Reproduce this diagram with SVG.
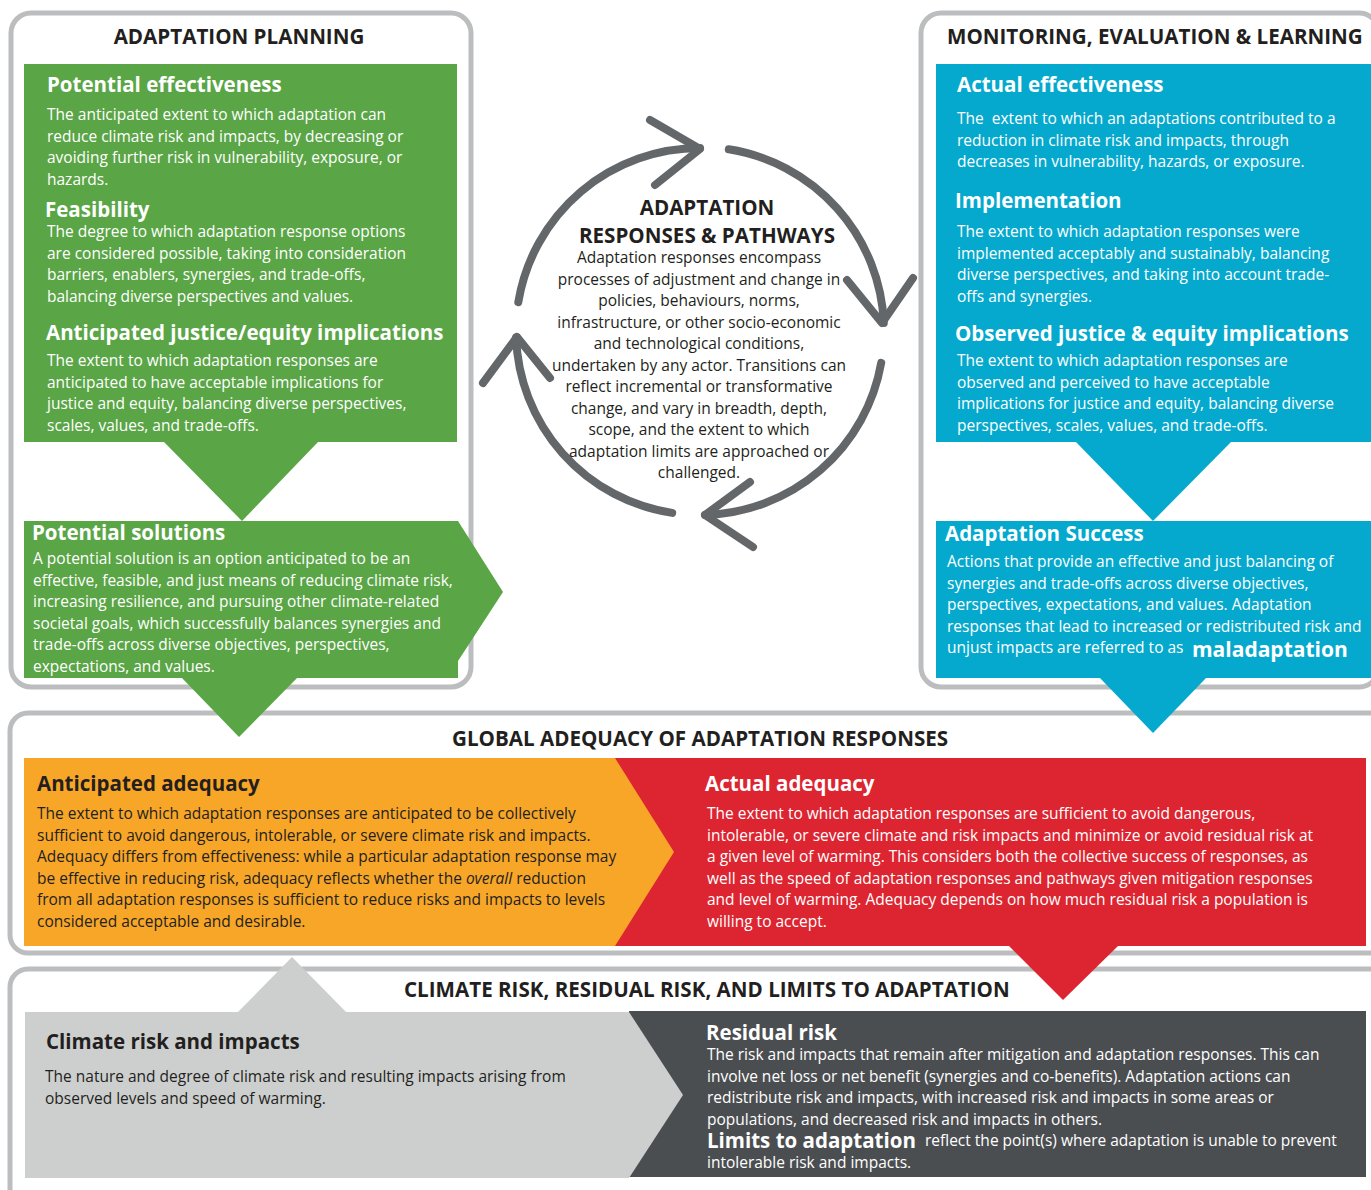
<svg xmlns="http://www.w3.org/2000/svg" width="1371" height="1190" viewBox="0 0 1371 1190">
<style>
text{font-family:"Open Sans","Liberation Sans",sans-serif}
.panel{fill:#ffffff;stroke:#bcbdbf;stroke-width:5}
.ttl{font-size:20.6px;font-weight:700;fill:#231f20}
.hw{font-size:20.5px;font-weight:700;fill:#ffffff}
.hd{font-size:20.5px;font-weight:700;fill:#231f20}
.bw{font-size:15.5px;fill:#ffffff}
.bd{font-size:15.5px;fill:#231f20}
.bc{font-size:15.5px;fill:#231f20;text-anchor:middle}
.green{fill:#5aa546}
.blue{fill:#05a9cd}
.orange{fill:#f8a627}
.red{fill:#dc2530}
.lgray{fill:#cdcfcf}
.dgray{fill:#4b4e51}
.cyc{fill:none;stroke:#646769;stroke-width:8;stroke-linecap:round;stroke-linejoin:round}
</style>

<g id="panels">
<rect id="panel-planning" class="panel" x="11" y="13" width="460" height="674" rx="20"/>
<rect id="panel-mel" class="panel" x="921" y="13" width="458" height="674" rx="20"/>
<rect id="panel-adequacy" class="panel" x="10" y="713" width="1380" height="240" rx="18"/>
<rect id="panel-risk" class="panel" x="10" y="969" width="1380" height="240" rx="18"/>
<text class="ttl" x="239" y="44" text-anchor="middle">ADAPTATION PLANNING</text>
<text class="ttl" x="947" y="44">MONITORING, EVALUATION &amp; LEARNING</text>
<text class="ttl" x="452" y="746">GLOBAL ADEQUACY OF ADAPTATION RESPONSES</text>
<text class="ttl" x="404" y="997">CLIMATE RISK, RESIDUAL RISK, AND LIMITS TO ADAPTATION</text>
</g>

<g id="connectors">
<polygon class="green" points="163,441 319,441 242,521"/>
<polygon class="green" points="181,677 298,677 239,737"/>
<polygon class="blue" points="1075,441 1232,441 1153,521"/>
<polygon class="blue" points="1099,677 1207,677 1153,733"/>
<polygon class="red" points="1008,945 1119,945 1063,1000"/>
<polygon class="lgray" points="237,1013 347,1013 292,957"/>
<path class="cyc" d="M518.3,302.2 A184,184 0 0 1 700,148"/>
<polyline class="cyc" points="650,120 700,149 655,185"/>
<path class="cyc" d="M728.8,149.3 A184,184 0 0 1 883.8,323"/>
<polyline class="cyc" points="847,280 882,323 913,278"/>
<path class="cyc" d="M881.2,362.9 A184,184 0 0 1 705,514.9"/>
<polyline class="cyc" points="750,482 705,515 753,547"/>
<path class="cyc" d="M672.2,512.9 A184,184 0 0 1 516.1,337.4"/>
<polyline class="cyc" points="483,383 517,337 550,378"/>
</g>

<g id="node-planning-criteria">
<rect class="green" x="24" y="64" width="433" height="378"/>
<text class="hw" x="47" y="92">Potential effectiveness</text>
<text class="bw" x="47" y="120">The anticipated extent to which adaptation can</text>
<text class="bw" x="47" y="141.5">reduce climate risk and impacts, by decreasing or</text>
<text class="bw" x="47" y="163">avoiding further risk in vulnerability, exposure, or</text>
<text class="bw" x="47" y="184.5">hazards.</text>
<text class="hw" x="45" y="217">Feasibility</text>
<text class="bw" x="47" y="237">The degree to which adaptation response options</text>
<text class="bw" x="47" y="258.5">are considered possible, taking into consideration</text>
<text class="bw" x="47" y="280">barriers, enablers, synergies, and trade-offs,</text>
<text class="bw" x="47" y="301.5">balancing diverse perspectives and values.</text>
<text class="hw" x="46" y="340">Anticipated justice/equity implications</text>
<text class="bw" x="47" y="366">The extent to which adaptation responses are</text>
<text class="bw" x="47" y="387.5">anticipated to have acceptable implications for</text>
<text class="bw" x="47" y="409">justice and equity, balancing diverse perspectives,</text>
<text class="bw" x="47" y="430.5">scales, values, and trade-offs.</text>
</g>

<g id="node-potential-solutions">
<polygon class="green" points="24,521 458,521 503,592 458,661 458,678 24,678"/>
<text class="hw" x="32" y="540">Potential solutions</text>
<text class="bw" x="33" y="564">A potential solution is an option anticipated to be an</text>
<text class="bw" x="33" y="585.5">effective, feasible, and just means of reducing climate risk,</text>
<text class="bw" x="33" y="607">increasing resilience, and pursuing other climate-related</text>
<text class="bw" x="33" y="628.5">societal goals, which successfully balances synergies and</text>
<text class="bw" x="33" y="650">trade-offs across diverse objectives, perspectives,</text>
<text class="bw" x="33" y="671.5">expectations, and values.</text>
</g>

<g id="node-responses-pathways">
<text class="ttl" x="707" y="215" text-anchor="middle">ADAPTATION</text>
<text class="ttl" x="707" y="243" text-anchor="middle">RESPONSES &amp; PATHWAYS</text>
<text class="bc" x="699" y="263">Adaptation responses encompass</text>
<text class="bc" x="699" y="284.5">processes of adjustment and change in</text>
<text class="bc" x="699" y="306">policies, behaviours, norms,</text>
<text class="bc" x="699" y="327.5">infrastructure, or other socio-economic</text>
<text class="bc" x="699" y="349">and technological conditions,</text>
<text class="bc" x="699" y="370.5">undertaken by any actor. Transitions can</text>
<text class="bc" x="699" y="392">reflect incremental or transformative</text>
<text class="bc" x="699" y="413.5">change, and vary in breadth, depth,</text>
<text class="bc" x="699" y="435">scope, and the extent to which</text>
<text class="bc" x="699" y="456.5">adaptation limits are approached or</text>
<text class="bc" x="699" y="478">challenged.</text>
</g>

<g id="node-mel-criteria">
<rect class="blue" x="936" y="64" width="440" height="378"/>
<text class="hw" x="957" y="92">Actual effectiveness</text>
<text class="bw" x="957" y="124" xml:space="preserve">The  extent to which an adaptations contributed to a</text>
<text class="bw" x="957" y="145.5">reduction in climate risk and impacts, through</text>
<text class="bw" x="957" y="167">decreases in vulnerability, hazards, or exposure.</text>
<text class="hw" x="955" y="208">Implementation</text>
<text class="bw" x="957" y="237">The extent to which adaptation responses were</text>
<text class="bw" x="957" y="258.5">implemented acceptably and sustainably, balancing</text>
<text class="bw" x="957" y="280">diverse perspectives, and taking into account trade-</text>
<text class="bw" x="957" y="301.5">offs and synergies.</text>
<text class="hw" x="955" y="341">Observed justice &amp; equity implications</text>
<text class="bw" x="957" y="366">The extent to which adaptation responses are</text>
<text class="bw" x="957" y="387.5">observed and perceived to have acceptable</text>
<text class="bw" x="957" y="409">implications for justice and equity, balancing diverse</text>
<text class="bw" x="957" y="430.5">perspectives, scales, values, and trade-offs.</text>
</g>

<g id="node-adaptation-success">
<rect class="blue" x="936" y="521" width="440" height="157"/>
<text class="hw" x="945" y="541">Adaptation Success</text>
<text class="bw" x="947" y="567">Actions that provide an effective and just balancing of</text>
<text class="bw" x="947" y="588.5">synergies and trade-offs across diverse objectives,</text>
<text class="bw" x="947" y="610">perspectives, expectations, and values. Adaptation</text>
<text class="bw" x="947" y="631.5">responses that lead to increased or redistributed risk and</text>
<text class="bw" x="947" y="653">unjust impacts are referred to as</text>
<text class="hw" x="1192" y="657" style="font-size:21px">maladaptation</text>
</g>

<g id="node-actual-adequacy">
<rect class="red" x="615" y="758" width="751" height="188"/>
<text class="hw" x="705" y="791">Actual adequacy</text>
<text class="bw" x="707" y="819">The extent to which adaptation responses are sufficient to avoid dangerous,</text>
<text class="bw" x="707" y="840.5">intolerable, or severe climate and risk impacts and minimize or avoid residual risk at</text>
<text class="bw" x="707" y="862">a given level of warming. This considers both the collective success of responses, as</text>
<text class="bw" x="707" y="883.5">well as the speed of adaptation responses and pathways given mitigation responses</text>
<text class="bw" x="707" y="905">and level of warming. Adequacy depends on how much residual risk a population is</text>
<text class="bw" x="707" y="926.5">willing to accept.</text>
</g>

<g id="node-anticipated-adequacy">
<polygon class="orange" points="24,758 615,758 674,852 615,946 24,946"/>
<text class="hd" x="37" y="791">Anticipated adequacy</text>
<text class="bd" x="37" y="819">The extent to which adaptation responses are anticipated to be collectively</text>
<text class="bd" x="37" y="840.5">sufficient to avoid dangerous, intolerable, or severe climate risk and impacts.</text>
<text class="bd" x="37" y="862">Adequacy differs from effectiveness: while a particular adaptation response may</text>
<text class="bd" x="37" y="883.5">be effective in reducing risk, adequacy reflects whether the <tspan font-style="italic">overall</tspan> reduction</text>
<text class="bd" x="37" y="905">from all adaptation responses is sufficient to reduce risks and impacts to levels</text>
<text class="bd" x="37" y="926.5">considered acceptable and desirable.</text>
</g>

<g id="node-residual-risk">
<rect class="dgray" x="629" y="1011" width="737" height="166"/>
<text class="hw" x="706" y="1040">Residual risk</text>
<text class="bw" x="707" y="1060">The risk and impacts that remain after mitigation and adaptation responses. This can</text>
<text class="bw" x="707" y="1081.5">involve net loss or net benefit (synergies and co-benefits). Adaptation actions can</text>
<text class="bw" x="707" y="1103">redistribute risk and impacts, with increased risk and impacts in some areas or</text>
<text class="bw" x="707" y="1124.5">populations, and decreased risk and impacts in others.</text>
<text class="hw" x="707" y="1148">Limits to adaptation</text>
<text class="bw" x="925" y="1146">reflect the point(s) where adaptation is unable to prevent</text>
<text class="bw" x="707" y="1168">intolerable risk and impacts.</text>
</g>

<g id="node-climate-risk">
<polygon class="lgray" points="25,1012 629,1012 683,1095 629,1178 25,1178"/>
<text class="hd" x="46" y="1049">Climate risk and impacts</text>
<text class="bd" x="45" y="1082">The nature and degree of climate risk and resulting impacts arising from</text>
<text class="bd" x="45" y="1103.5">observed levels and speed of warming.</text>
</g>
</svg>
